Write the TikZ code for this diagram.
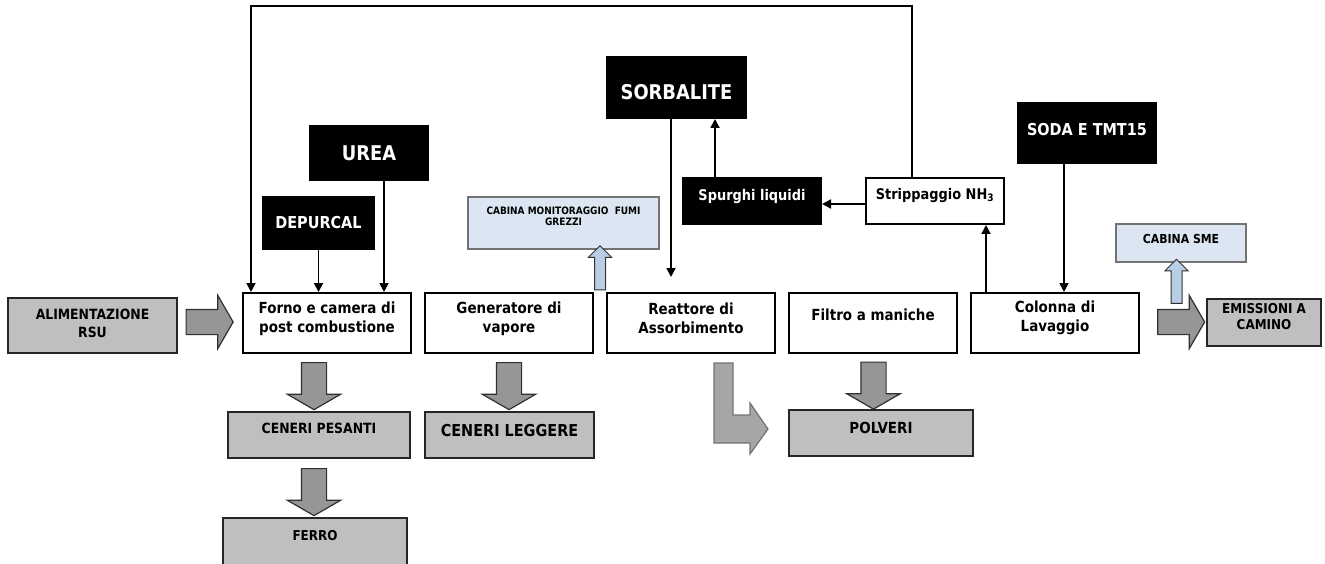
\documentclass[tikz,border=0pt]{standalone}
\usepackage{fontspec}
\setmainfont{DejaVu Sans}[FakeStretch=0.88]
\usetikzlibrary{arrows.meta,positioning,calc,shapes.arrows}
\definecolor{wsGrey}{HTML}{BFBFBF}
\definecolor{wsArrow}{HTML}{969696}
\definecolor{wsArrowL}{HTML}{A6A6A6}
\definecolor{wsBlue}{HTML}{DCE6F2}
\definecolor{wsBlueArr}{HTML}{B9CDE5}
\definecolor{wsEdge}{HTML}{303030}
\newcommand{\fsz}[2]{\fontsize{#1}{#2}\selectfont\bfseries}
\tikzset{
  wsnode/.style={
    draw=black, line width=2pt, minimum width=168, minimum height=60,
    align=center, inner sep=0pt, font=\fsz{15.3}{19}
  },
  procbox/.style={wsnode, fill=white},
  outbox/.style={wsnode, fill=wsGrey, line width=2.4pt, draw=black!85, font=\fsz{14.1}{18}},
  reagent/.style={wsnode, fill=black, text=white},
  monitor/.style={wsnode, fill=wsBlue, draw=black!55, line width=1.2pt, font=\fsz{10.2}{11}},
  raisetext/.style={text depth=#1},
  feed/.style={-{Triangle[length=9pt,width=9pt]}, line width=1.8pt},
  bigarrow/.style={
    single arrow, draw=wsEdge, fill=wsArrow, line width=1.2pt, inner xsep=0pt, inner ysep=12pt,
    single arrow head extend=14pt, single arrow tip angle=120, minimum height=47, minimum width=0pt
  },
  bentarrow/.style={draw=black!55, fill=wsArrowL, line width=1.2pt},
  smallarrow/.style={
    single arrow, draw=black!80, fill=wsBlueArr, line width=1pt, inner xsep=0pt, inner ysep=5pt,
    single arrow head extend=6pt, single arrow tip angle=90, minimum height=44, minimum width=0pt
  }
}
\begin{document}
\begin{tikzpicture}[x=1pt, y=-1pt, node distance=12pt]
  \useasboundingbox (0,0) rectangle (1325,564);
  \node[procbox, raisetext=12pt] (forno) at (327,323) {Forno e camera di\\post combustione};
  \node[procbox, raisetext=12pt, right=of forno] (gen) {Generatore di\\vapore};
  \node[procbox, raisetext=9pt, right=of gen] (reatt) {Reattore di\\Assorbimento};
  \node[procbox, raisetext=16pt, right=of reatt] (filtro) {Filtro a maniche};
  \node[procbox, raisetext=14pt, right=of filtro] (colonna) {Colonna di\\Lavaggio};

  \node[outbox, minimum width=169, minimum height=55, raisetext=4pt] (alim) at (92.5,325.5) {ALIMENTAZIONE\\RSU};
  \node[outbox, minimum width=114, minimum height=47, raisetext=13pt, font=\fsz{13.6}{16}] (emis) at (1264,322.5) {EMISSIONI A\\CAMINO};
  \node[outbox, minimum width=182, minimum height=46, raisetext=14pt] (cenP) at (319,435) {CENERI PESANTI};
  \node[outbox, minimum width=169, minimum height=46, raisetext=10pt, font=\fsz{16.4}{18}] (cenL) at (509.5,435) {CENERI LEGGERE};
  \node[outbox, minimum width=184, minimum height=46, raisetext=10pt, font=\fsz{15.3}{18}] (polveri) at (881,433) {POLVERI};
  \node[outbox, minimum width=184, minimum height=48, raisetext=14pt, font=\fsz{13.6}{18}] (ferro) at (315,542) {FERRO};

  \node[monitor, minimum width=191, minimum height=52, raisetext=13pt] (monit) at (563.5,223) {CABINA MONITORAGGIO~~FUMI\\GREZZI};
  \node[monitor, minimum width=130, minimum height=38, raisetext=8pt, font=\fsz{12.4}{13}] (sme) at (1181,243) {CABINA SME};

  \node[reagent, minimum width=111, minimum height=52, font=\fsz{16.4}{18}] (depurcal) at (318.5,223) {DEPURCAL};
  \node[reagent, minimum width=118, minimum height=54, font=\fsz{20.3}{22}] (urea) at (369,153) {UREA};
  \node[reagent, minimum width=139, minimum height=61, text height=24pt, font=\fsz{20.3}{22}] (sorb) at (676.5,87.5) {SORBALITE};
  \node[reagent, minimum width=138, minimum height=46, raisetext=13pt, font=\fsz{14.7}{16}] (spurghi) at (752,201) {Spurghi liquidi};
  \node[procbox, minimum width=138, minimum height=46, raisetext=15pt, font=\fsz{14.7}{16}] (strip) at (935,201) {Strippaggio NH\textsubscript{3}};
  \node[reagent, minimum width=138, minimum height=60, raisetext=8pt, font=\fsz{16.4}{18}] (soda) at (1087,133) {SODA E TMT15};

  \node[bigarrow] (arrFeed) at (206,322) {};
  \node[bigarrow] (arrEmis) at (1177.5,322) {};
  \node[bigarrow, rotate=-90] (arrForno) at (314,382.5) {};
  \node[bigarrow, rotate=-90] (arrCenP) at (314,488.5) {};
  \node[bigarrow, rotate=-90] (arrGen) at (509,382.5) {};
  \node[bigarrow, rotate=-90] (arrFiltro) at (873.5,382) {};
  \node[smallarrow, rotate=90] (arrMonit) at (600,270.5) {};
  \node[smallarrow, rotate=90] (arrSme) at (1176.5,284) {};
  \draw[bentarrow] (714,363) -- (733,363) -- (733,415) -- (750,415) -- (750,403)
    -- (768,429) -- (750,454) -- (750,443) -- (714,443) -- cycle;

  \draw[feed] ($(strip.north)+(-23,0)$) coordinate (t1) -- ++(0,-171) -| ($(forno.north west)+(9,0)$);
  \draw[feed] (depurcal.south) -- (depurcal.south |- forno.north);
  \draw[feed] ($(urea.south)+(15,0)$) coordinate (u1) -- (u1 |- forno.north);
  \draw[feed] ($(sorb.south)+(-5.5,0)$) coordinate (s1) -- ($(s1 |- reatt.north)+(0,-15)$);
  \draw[feed] ($(spurghi.north)+(-37,0)$) coordinate (p1) -- (p1 |- sorb.south);
  \draw[feed] ($(strip.west)+(0,3)$) coordinate (q1) -- (q1 -| spurghi.east);
  \draw[feed] ($(colonna.north west)+(16,0)$) coordinate (c1) -- (c1 |- strip.south);
  \draw[feed] ($(soda.south)+(-23,0)$) coordinate (d1) -- (d1 |- colonna.north);
\end{tikzpicture}
\end{document}
